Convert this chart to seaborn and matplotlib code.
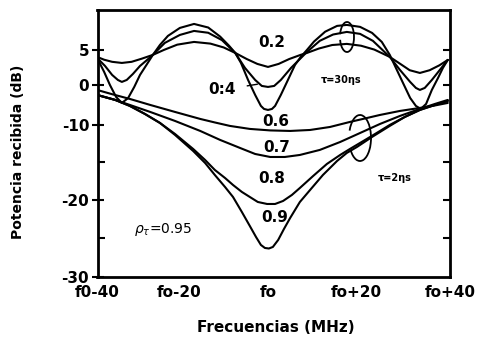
import numpy as np
import pandas as pd
import matplotlib
matplotlib.use('Agg')
import matplotlib.pyplot as plt
import seaborn as sns
from matplotlib.patches import Arc

# frequency offset from fo (MHz) and received power (dB)
# tau = 30 ns group
f_02 = [-38.6, -37.0, -35.2, -33.0, -30.8, -28.5, -26.0, -23.5, -20.5, -16.7, -13.0, -10.0,
        -7.4, -4.8, -2.4, 0.0, 2.4, 4.8, 7.4, 8.8, 11.5, 14.5, 17.8, 21.0, 24.0, 27.5,
        30.0, 32.0, 34.3, 36.5, 38.7, 40.6]
p_02 = [4.0, 3.6, 3.3, 3.14, 3.3, 3.75, 4.29, 5.0, 5.75, 6.14, 5.9, 5.35,
        4.57, 3.7, 3.0, 2.57, 3.0, 3.7, 4.3, 4.57, 5.2, 5.7, 5.86, 5.6, 5.05, 4.0,
        2.95, 2.1, 1.71, 2.1, 2.8, 3.57]

f_04 = [-38.6, -36.8, -35.2, -33.9, -33.0, -31.9, -30.5, -28.9, -27.3, -26.0, -23.3, -19.9,
        -16.7, -13.5, -10.4, -7.4, -5.2, -2.9, -1.4, 0.0, 1.4, 2.9, 5.2, 8.8, 11.7, 14.7,
        17.8, 20.8, 23.7, 27.5, 29.8, 32.1, 33.4, 34.3, 35.4, 37.0, 38.8, 40.6]
p_04 = [3.86, 2.71, 1.43, 0.71, 0.43, 0.71, 1.57, 2.71, 3.57, 4.29, 6.0, 7.14,
        7.71, 7.45, 6.4, 4.57, 2.43, 0.71, -0.25, -0.5, -0.25, 0.71, 2.43, 4.71, 6.3, 7.2,
        7.57, 7.29, 6.29, 4.0, 2.14, 0.43, -0.75, -1.25, -0.75, 0.71, 2.14, 3.57]

f_deep = [-38.6, -37.0, -35.7, -34.3, -33.0, -31.6, -30.2, -28.9, -27.3, -26.0, -24.4, -22.6,
          -19.9, -16.7, -13.5, -10.8, -8.8, -7.4, -6.1, -4.5, -2.9, -1.6, -0.9, 0.0, 0.9, 1.6,
          2.9, 4.5, 6.1, 7.4, 8.8, 10.4, 12.9, 15.6, 17.8, 20.8, 23.5, 25.7, 27.5, 29.1,
          30.7, 32.1, 33.4, 34.5, 35.7, 37.0, 38.4, 39.5, 40.6]
p_deep = [3.86, 1.86, 0.0, -3.0, -4.5, -3.3, -0.5, 1.43, 3.0, 4.29, 5.71, 7.0,
          8.14, 8.71, 8.2, 6.9, 5.6, 4.57, 3.14, 0.71, -2.5, -5.25, -6.0, -6.25, -6.0, -5.25,
          -2.5, 0.71, 2.86, 4.0, 5.0, 6.2, 7.6, 8.43, 8.57, 8.29, 7.43, 6.14, 4.29, 2.14,
          0.0, -3.25, -5.25, -6.0, -4.75, -1.25, 1.0, 2.43, 3.57]

# tau = 2 ns group
f_06 = [-38.6, -35.0, -31.2, -26.6, -21.0, -15.3, -12.0, -8.6, -4.1, 0.5, 5.0, 9.5,
        14.0, 18.5, 21.9, 25.3, 29.8, 34.3, 37.7, 40.6]
p_06 = [-1.25, -2.38, -3.5, -5.0, -6.75, -8.5, -9.38, -10.13, -10.53, -10.73, -10.8, -10.67,
        -10.27, -9.25, -8.38, -7.5, -6.5, -5.75, -5.13, -4.5]

f_07 = [-38.6, -34.5, -31.2, -26.6, -21.0, -15.3, -10.8, -6.3, -2.9, 0.5, 3.8, 7.2,
        11.7, 16.3, 20.8, 25.3, 29.8, 34.3, 37.7, 40.6]
p_07 = [-2.5, -3.75, -5.0, -6.75, -9.0, -10.8, -12.0, -13.07, -13.87, -14.27, -14.27, -14.0,
        -13.33, -12.27, -11.07, -9.75, -7.75, -6.0, -4.75, -3.75]

f_08 = [-38.6, -34.5, -31.2, -27.8, -24.4, -21.0, -16.9, -14.2, -12.0, -9.7, -7.9, -5.9,
        -4.1, -2.3, -0.2, 1.6, 3.4, 5.4, 7.2, 10.2, 13.3, 16.3, 18.5, 22.3, 25.3, 27.5,
        30.9, 34.3, 37.7, 40.6]
p_08 = [-2.5, -3.75, -5.25, -7.25, -9.5, -11.2, -13.2, -14.67, -16.0, -17.07, -18.0, -18.93,
        -19.6, -20.26, -20.52, -20.52, -20.13, -19.33, -18.4, -16.8, -15.2, -14.0, -13.2, -11.87, -10.8, -10.0,
        -8.0, -6.25, -5.0, -4.0]

f_09 = [-38.6, -34.5, -31.2, -27.8, -24.4, -21.0, -16.9, -14.2, -12.0, -9.7, -7.9, -5.9,
        -4.1, -2.7, -1.6, -0.7, 0.2, 1.1, 2.3, 3.6, 5.0, 7.2, 9.5, 12.4, 15.6, 17.8,
        20.1, 23.5, 27.5, 30.9, 34.3, 37.7, 40.6]
p_09 = [-2.5, -3.75, -5.25, -7.25, -9.5, -11.33, -13.47, -15.07, -16.67, -18.27, -19.6, -21.56,
        -23.38, -24.81, -25.84, -26.23, -26.3, -26.1, -25.19, -23.77, -22.34, -20.26, -18.67, -16.67, -14.8, -13.73,
        -12.93, -11.6, -10.13, -8.0, -6.25, -5.0, -4.0]

curves = [(f_02, p_02), (f_04, p_04), (f_deep, p_deep),
          (f_06, p_06), (f_07, p_07), (f_08, p_08), (f_09, p_09)]

x_ticks = [-38.5, -20, 0, 20, 41.1]
x_labels = ['f0-40', 'fo-20', 'fo', 'fo+20', 'fo+40']
y_ticks = [5, 0, -10, -20, -30]
y_labels = ['5', '0', '-10', '-20', '-30']

# the printed dB axis is not evenly spaced: calibrate with the labelled ticks
db_knots = [-60, -30, -20, -10, 0, 5, 40]
pos_knots = [-231, 0, 77, 152, 192, 227, 472]


def fwd(v):
    return np.interp(v, db_knots, pos_knots)


def inv(p):
    return np.interp(p, pos_knots, db_knots)


sns.set_style('white')
plt.rcParams['font.family'] = ['DejaVu Sans']
plt.rcParams['text.color'] = 'black'
plt.rcParams['xtick.color'] = 'black'
plt.rcParams['ytick.color'] = 'black'

fig = plt.figure(figsize=(4.8, 3.41), dpi=100)
ax = fig.add_axes([97.5 / 480, 1 - 277 / 341, (450 - 97.5) / 480, (277 - 10) / 341])
ax.set_yscale('function', functions=(fwd, inv))

for f, p in curves:
    df = pd.DataFrame({'freq': f, 'db': p})
    sns.lineplot(data=df, x='freq', y='db', color='black', lw=1.5, sort=False,
                 estimator=None, ax=ax)

ax.set_xlim(-38.5, 41.1)
ax.set_ylim(-30, 10.7)
ax.set_xlabel('')
ax.set_ylabel('')
ax.set_xticks(x_ticks)
ax.set_xticklabels(x_labels, fontsize=11, fontweight='bold')
ax.set_xticks([-30, -10, 10, 30], minor=True)
ax.set_yticks(y_ticks)
ax.set_yticklabels(y_labels, fontsize=11, fontweight='bold')
ax.set_yticks([-15, -25], minor=True)
ax.tick_params(axis='x', which='both', direction='in', length=4, width=1.5, pad=6)
ax.tick_params(axis='y', which='major', direction='inout', length=8, width=1.5, pad=2)
ax.tick_params(axis='y', which='minor', direction='in', length=5, width=1.5)
for s in ax.spines.values():
    s.set_linewidth(2)
    s.set_color('black')

ax2 = ax.twinx()
ax2.set_yscale('function', functions=(fwd, inv))
ax2.set_ylim(-30, 10.7)
ax2.set_yticks([5, 0, -10, -15, -20, -25])
ax2.tick_params(axis='y', direction='in', length=5, width=1.5, labelright=False)
for s in ax2.spines.values():
    s.set_visible(False)

# curve labels
bold = dict(fontsize=11, fontweight='bold', ha='center', va='center')
ax.text(0.9, 6.1, '0.2', **bold)
ax.annotate('0:4', xy=(-2.4, 0.1), xytext=(-10.4, -1.25), textcoords='data',
            arrowprops=dict(arrowstyle='-', lw=1, color='black', shrinkA=6, shrinkB=0), **bold)
ax.text(1.8, -9.25, '0.6', **bold)
ax.text(2.0, -13.07, '0.7', **bold)
ax.text(0.9, -17.2, '0.8', **bold)
ax.text(1.4, -22.3, '0.9', **bold)
ax.text(16.5, 0.7, 'τ=30ηs', fontsize=7, fontweight='bold', ha='center', va='center')
ax.text(28.7, -17.1, 'τ=2ηs', fontsize=7, fontweight='bold', ha='center', va='center')
ax.text(-23.7, -23.8, r'$\rho_\tau$=0.95', fontsize=10, ha='center', va='center')

# hand-drawn grouping brackets
fig.add_artist(Arc((347 / 480, 1 - 37 / 341), 14 / 480, 30 / 341, theta1=-150, theta2=150,
                   transform=fig.transFigure, color='black', lw=1.3))
fig.add_artist(Arc((360 / 480, 1 - 138 / 341), 22 / 480, 46 / 341, theta1=-120, theta2=135,
                   transform=fig.transFigure, color='black', lw=1.3))

fig.text(18 / 480, 1 - 152 / 341, 'Potencia recibida (dB)', rotation=90, fontsize=10,
         fontweight='bold', ha='center', va='center')
fig.text(276 / 480, 1 - 328 / 341, 'Frecuencias (MHz)', fontsize=11, fontweight='bold',
         ha='center', va='center')

fig.savefig('out.png', dpi=100)
plt.close(fig)
